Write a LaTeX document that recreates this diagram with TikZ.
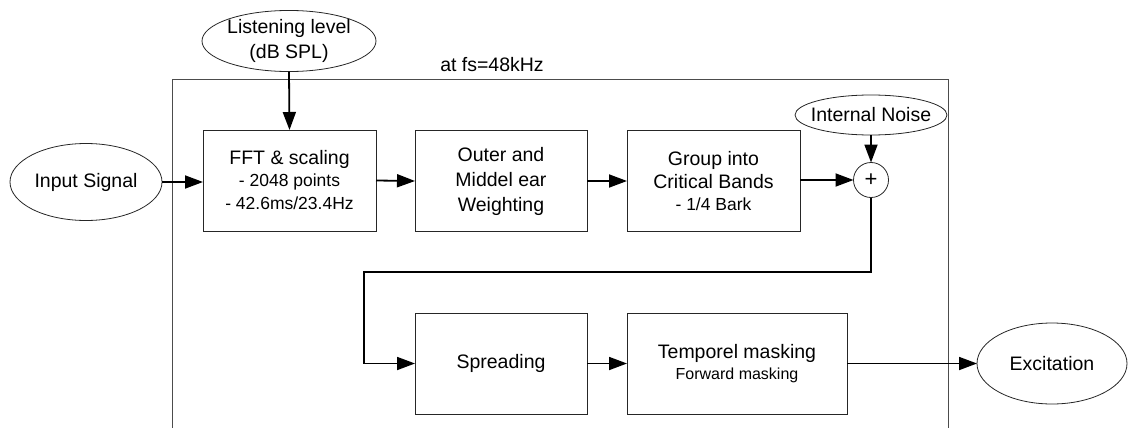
\documentclass[tikz,border=0pt]{standalone}
\usepackage{fontspec}
\setmainfont{Liberation Sans}
\usetikzlibrary{shapes.geometric,arrows.meta}
\newcommand{\mainf}{\fontsize{19.5}{25}\selectfont}
\newcommand{\subf}{\fontsize{17.5}{22}\selectfont}
\newcommand{\smallf}{\fontsize{16}{20}\selectfont}
\begin{document}
\begin{tikzpicture}[x=1pt,y=-1pt,
  blk/.style={draw=black!85,line width=0.8pt,minimum width=173pt,minimum height=101pt,inner sep=0pt,outer sep=0pt,align=center,font=\mainf},
  oval/.style={draw=black!85,line width=0.8pt,ellipse,inner sep=0pt,outer sep=0pt,align=center,font=\mainf},
  con/.style={line width=1.8pt,-{Triangle[length=18pt,width=13pt]}}]
\useasboundingbox (0,0) rectangle (1130,428);
% frame
\coordinate (fbl) at (172,428);
\coordinate (ftl) at (172,79);
\coordinate (ftr) at (948,79);
\coordinate (fbr) at (948,428);
\draw[black!70,line width=0.9pt] (fbl) -- (ftl) -- (ftr) -- (fbr);
\node[font=\mainf,anchor=base] (fs) at (492,71) {at fs=48kHz};
% nodes
\node[oval,minimum width=174pt,minimum height=56pt] (ll) at (289,41) {\makebox[0pt]{Listening level}\\\makebox[0pt]{(dB SPL)}};
\node[oval,minimum width=152pt,minimum height=77pt] (in) at (86,182) {\makebox[0pt]{Input Signal}};
\node[blk,minimum width=173pt] (fft) at (289.5,180.5) {FFT \& scaling\\[-3pt]{\subf - 2048 points}\\[-2pt]{\subf - 42.6ms/23.4Hz}};
\node[blk,minimum width=172pt] (oe) at (501,181) {Outer and\\Middel ear\\Weighting};
\node[blk,minimum width=173pt] (gc) at (713.5,181) {Group into\\[-2pt]Critical Bands\\[-3pt]{\subf - 1/4 Bark}};
\node[draw=black!85,line width=0.8pt,circle,minimum size=35pt,inner sep=0pt,outer sep=0pt,font=\fontsize{22}{22}\selectfont] (plus) at (871,180) {+};
\node[oval,minimum width=152pt,minimum height=40pt] (noise) at (871,115) {\makebox[0pt]{Internal Noise}};
\node[blk,minimum width=172pt] (sp) at (501,363.5) {Spreading};
\node[blk,minimum width=220pt] (tm) at (737,363.5) {Temporel masking\\[-4pt]{\smallf Forward masking}};
\node[oval,minimum width=150pt,minimum height=81pt] (ex) at (1052,363.5) {\makebox[0pt]{Excitation}};
% connectors
\draw[con] (ll.south) -- (fft.north);
\draw[con] (in.east) -- (fft.west |- in.east);
\draw[con] (fft.east) -- (oe.west);
\draw[con] (oe.east) -- (gc.west);
\draw[con] (gc.east |- plus.west) -- (plus.west);
\draw[con] (noise.south) -- (plus.north);
\coordinate (r1) at (871,272);
\coordinate (r2) at (364,272);
\draw[con] (plus.south) -- (r1) -- (r2) -- (r2 |- sp.west) -- (sp.west);
\draw[con] (sp.east) -- (tm.west);
\draw[con] (tm.east) -- (ex.west);
\end{tikzpicture}
\end{document}
